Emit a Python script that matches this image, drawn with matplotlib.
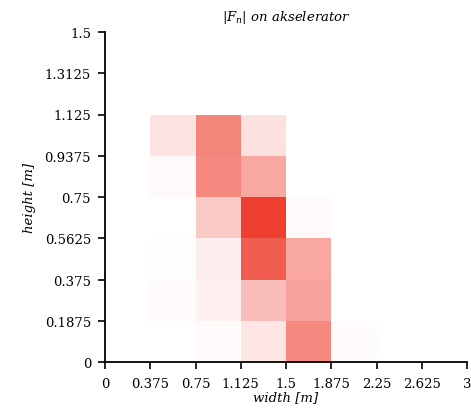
import numpy as np
import matplotlib
matplotlib.use("Agg")
import matplotlib.pyplot as plt
from matplotlib.colors import LinearSegmentedColormap

x_edges = [0, 0.375, 0.75, 1.125, 1.5, 1.875, 2.25, 2.625, 3]
y_edges = [0, 0.1875, 0.375, 0.5625, 0.75, 0.9375, 1.125, 1.3125, 1.5]
x_ticklabels = ["0", "0.375", "0.75", "1.125", "1.5", "1.875", "2.25", "2.625", "3"]
y_ticklabels = ["0", "0.1875", "0.375", "0.5625", "0.75", "0.9375", "1.125", "1.3125", "1.5"]

# |F_n| intensity per cell (rows: bottom->top, cols: left->right), relative 0..1
row0 = [0.0, 0.0, 0.02, 0.13, 0.60, 0.02, 0.0, 0.0]
row1 = [0.0, 0.02, 0.08, 0.33, 0.47, 0.0, 0.0, 0.0]
row2 = [0.0, 0.01, 0.09, 0.82, 0.44, 0.0, 0.0, 0.0]
row3 = [0.0, 0.0, 0.27, 0.97, 0.03, 0.0, 0.0, 0.0]
row4 = [0.0, 0.03, 0.60, 0.44, 0.0, 0.0, 0.0, 0.0]
row5 = [0.0, 0.14, 0.62, 0.15, 0.0, 0.0, 0.0, 0.0]
row6 = [0.0, 0.0, 0.0, 0.0, 0.0, 0.0, 0.0, 0.0]
row7 = [0.0, 0.0, 0.0, 0.0, 0.0, 0.0, 0.0, 0.0]
values = np.array([row0, row1, row2, row3, row4, row5, row6, row7])

plt.rcParams['font.family'] = ['DejaVu Serif']
plt.rcParams['mathtext.fontset'] = 'dejavuserif'

cmap = LinearSegmentedColormap.from_list("wr", ["#ffffff", "#ee3a2a"])

fig = plt.figure(figsize=(4.71, 4.14), dpi=100)
ax = fig.add_axes([105 / 471, (414 - 363) / 414, (467 - 105) / 471, (363 - 33) / 414])
ax.pcolormesh(x_edges, y_edges, values, cmap=cmap, vmin=0, vmax=1, shading='flat')
ax.set_xlim(0, 3)
ax.set_ylim(0, 1.5)
ax.set_xticks(x_edges)
ax.set_xticklabels(x_ticklabels)
ax.set_yticks(y_edges)
ax.set_yticklabels(y_ticklabels)
for s in ['top', 'right']:
    ax.spines[s].set_visible(False)
for s in ['left', 'bottom']:
    ax.spines[s].set_linewidth(1.3)
ax.tick_params(direction='out', length=5, width=1.2, labelsize=9.5, colors='black')
ax.tick_params(axis='x', pad=6)
ax.tick_params(axis='y', pad=5)
ax.set_xlabel("width [m]", fontsize=9.5, style='italic', labelpad=0)
ax.set_ylabel("height [m]", fontsize=9.5, style='italic', labelpad=6)
ax.set_title(r"$|F_n|$ on akselerator", fontsize=9.5, style='italic', pad=9)

fig.savefig("out.png", dpi=100)
